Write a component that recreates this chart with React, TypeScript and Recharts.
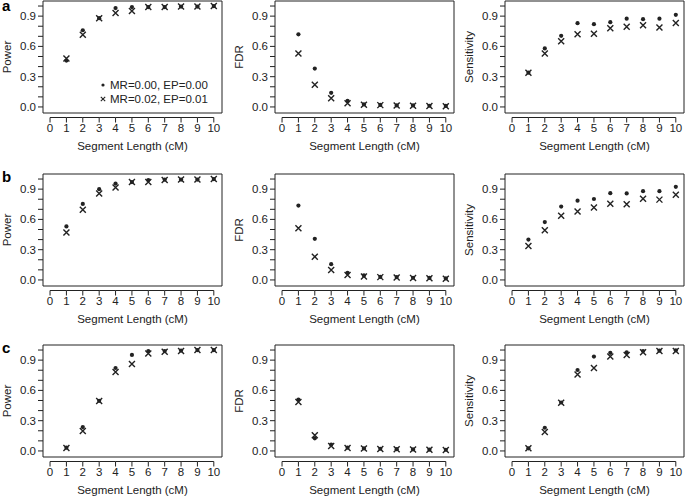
import React from 'react';
import { ScatterChart, Scatter, XAxis, YAxis, ReferenceArea, Legend } from 'recharts';

// ---------- data ----------
const segmentLengths = [1, 2, 3, 4, 5, 6, 7, 8, 9, 10];
const xTicks = [0, 1, 2, 3, 4, 5, 6, 7, 8, 9, 10];
const yTicks = [0, 0.1, 0.2, 0.3, 0.4, 0.5, 0.6, 0.7, 0.8, 0.9, 1.0];
const yLabelTicks = [0, 0.3, 0.6, 0.9];
const rowLetters = ['a', 'b', 'c'];
const metricNames = ['Power', 'FDR', 'Sensitivity'];
const xTitle = 'Segment Length (cM)';
const seriesNames = ['MR=0.00, EP=0.00', 'MR=0.02, EP=0.01'];

// row a
const powerA0 = [0.46, 0.76, 0.88, 0.98, 0.99, 0.99, 0.99, 0.995, 0.995, 1.0];
const powerA1 = [0.48, 0.715, 0.88, 0.93, 0.95, 0.99, 0.99, 0.995, 0.995, 1.0];
const fdrA0 = [0.72, 0.38, 0.14, 0.06, 0.025, 0.02, 0.015, 0.015, 0.012, 0.01];
const fdrA1 = [0.53, 0.22, 0.085, 0.036, 0.022, 0.018, 0.014, 0.013, 0.01, 0.008];
const sensA0 = [0.34, 0.58, 0.705, 0.83, 0.82, 0.84, 0.875, 0.87, 0.875, 0.913];
const sensA1 = [0.34, 0.53, 0.65, 0.72, 0.725, 0.78, 0.795, 0.81, 0.787, 0.832];
// row b
const powerB0 = [0.53, 0.753, 0.9, 0.955, 0.97, 0.99, 0.995, 0.995, 0.995, 1.0];
const powerB1 = [0.47, 0.695, 0.857, 0.916, 0.97, 0.97, 0.99, 0.995, 0.995, 1.0];
const fdrB0 = [0.737, 0.408, 0.156, 0.07, 0.045, 0.03, 0.028, 0.022, 0.02, 0.015];
const fdrB1 = [0.512, 0.231, 0.098, 0.05, 0.035, 0.028, 0.025, 0.02, 0.017, 0.013];
const sensB0 = [0.4, 0.574, 0.727, 0.786, 0.802, 0.86, 0.857, 0.88, 0.88, 0.923];
const sensB1 = [0.336, 0.492, 0.636, 0.678, 0.717, 0.756, 0.75, 0.805, 0.796, 0.845];
// row c
const powerC0 = [0.032, 0.237, 0.497, 0.822, 0.952, 0.99, 0.99, 0.995, 1.0, 1.0];
const powerC1 = [0.03, 0.198, 0.495, 0.783, 0.861, 0.965, 0.984, 0.99, 1.0, 1.0];
const fdrC0 = [0.51, 0.125, 0.062, 0.032, 0.025, 0.022, 0.018, 0.015, 0.013, 0.012];
const fdrC1 = [0.484, 0.155, 0.05, 0.03, 0.024, 0.02, 0.017, 0.014, 0.012, 0.01];
const sensC0 = [0.026, 0.23, 0.48, 0.802, 0.935, 0.972, 0.978, 0.99, 0.994, 0.997];
const sensC1 = [0.026, 0.188, 0.478, 0.757, 0.822, 0.935, 0.952, 0.978, 0.99, 0.99];

const panelSeries = [
  [[powerA0, powerA1], [fdrA0, fdrA1], [sensA0, sensA1]],
  [[powerB0, powerB1], [fdrB0, fdrB1], [sensB0, sensB1]],
  [[powerC0, powerC1], [fdrC0, fdrC1], [sensC0, sensC1]],
];

// ---------- layout ----------
const FONT = '"Liberation Sans", Arial, Helvetica, sans-serif';
const INK = '#222222';
const X_MIN = -0.43;
const X_MAX = 10.5;
const Y_MIN = -0.06; // bottom edge of the box
const Y_MAX = 1.05; // top edge of the box
const BOX_LEFT = [43, 275, 505];
const BOX_TOP = [1, 174, 345];
const BOX_W = 179;
const BOX_H = 112;
const Y_PX = (Y_MAX - Y_MIN) / BOX_H; // data units per pixel
// R-style detached x axis: a line a few pixels below the box, ticks hanging down
const AXIS_GAP_PX = 4.5;
const TICK_LEN_PX = 5;
const EXTRA_PX = 11; // plot area extends below the box to hold the axis line
const Y_LOW = Y_MIN - EXTRA_PX * Y_PX;
const AXIS_Y = Y_MIN - AXIS_GAP_PX * Y_PX;
const PLOT_H = BOX_H + EXTRA_PX;

const M_LEFT = 12;
const Y_AXIS_W = 38;
const M_TOP = 4;
const X_AXIS_H = 29;
const M_BOTTOM = 4;
const M_RIGHT = 4;
const CHART_W = M_LEFT + Y_AXIS_W + BOX_W + M_RIGHT;
const CHART_H = M_TOP + PLOT_H + X_AXIS_H + M_BOTTOM;

const toPoints = (vals: number[]) => segmentLengths.map((x, i) => ({ x, y: vals[i] }));
const axisPoints = xTicks.map((x) => ({ x, y: AXIS_Y }));

const DotShape = (props: any) => {
  const { cx, cy } = props;
  if (cx == null || cy == null) return null;
  return <circle cx={cx} cy={cy} r={2.1} fill={INK} />;
};

const CrossShape = (props: any) => {
  const { cx, cy } = props;
  if (cx == null || cy == null) return null;
  const s = 3;
  return (
    <path
      d={`M${cx - s},${cy - s}L${cx + s},${cy + s}M${cx - s},${cy + s}L${cx + s},${cy - s}`}
      stroke={INK}
      strokeWidth={1.4}
      fill="none"
    />
  );
};

const TickMarkShape = (props: any) => {
  const { cx, cy } = props;
  if (cx == null || cy == null) return null;
  return <path d={`M${cx},${cy}L${cx},${cy + TICK_LEN_PX}`} stroke={INK} strokeWidth={1} fill="none" />;
};

const XTickText = (props: any) => {
  const x = Number(props.x);
  const y = Number(props.y);
  const value = props.payload ? props.payload.value : '';
  return (
    <text x={x} y={y + 8} textAnchor="middle" style={{ fontSize: 11.5, fontFamily: FONT, fill: INK }}>
      {value}
    </text>
  );
};

const YTitle = (props: any) => {
  const vb = props.viewBox || { x: M_LEFT, y: M_TOP, width: Y_AXIS_W, height: PLOT_H };
  const cx = vb.x + vb.width - 36;
  const cy = vb.y + (vb.height - EXTRA_PX) / 2;
  return (
    <text
      x={cx}
      y={cy}
      transform={`rotate(-90, ${cx}, ${cy})`}
      textAnchor="middle"
      dominantBaseline="central"
      style={{ fontSize: 11.5, fontFamily: FONT, fill: INK }}
    >
      {props.text}
    </text>
  );
};

const XTitle = (props: any) => {
  const vb = props.viewBox || { x: M_LEFT + Y_AXIS_W, y: M_TOP + PLOT_H, width: BOX_W, height: X_AXIS_H };
  return (
    <text
      x={vb.x + vb.width / 2}
      y={vb.y + 26}
      textAnchor="middle"
      style={{ fontSize: 11.5, fontFamily: FONT, fill: INK }}
    >
      {props.text}
    </text>
  );
};

const LegendContent = () => (
  <div style={{ fontFamily: FONT, fontSize: 11.5, color: INK, lineHeight: '14px' }}>
    {seriesNames.map((name: string, i: number) => (
      <div key={name} style={{ display: 'flex', alignItems: 'center', whiteSpace: 'nowrap' }}>
        <svg width={8} height={8} style={{ display: 'block' }}>
          {i === 0 ? (
            <circle cx={4} cy={4} r={1.6} fill={INK} />
          ) : (
            <path d="M1.8,1.8L6.2,6.2M1.8,6.2L6.2,1.8" stroke={INK} strokeWidth={1.1} />
          )}
        </svg>
        <span style={{ marginLeft: 3 }}>{name}</span>
      </div>
    ))}
  </div>
);

const Panel = ({ row, col }: { row: number; col: number }) => {
  const [clean, noisy] = panelSeries[row][col];
  const left = BOX_LEFT[col] - M_LEFT - Y_AXIS_W;
  const top = BOX_TOP[row] - M_TOP;
  const showLegend = row === 0 && col === 0;
  return (
    <div style={{ position: 'absolute', left, top, width: CHART_W, height: CHART_H }}>
      <ScatterChart
        width={CHART_W}
        height={CHART_H}
        margin={{ top: M_TOP, right: M_RIGHT, bottom: M_BOTTOM, left: M_LEFT }}
      >
        <XAxis
          type="number"
          dataKey="x"
          domain={[X_MIN, X_MAX]}
          allowDataOverflow
          ticks={xTicks}
          interval={0}
          axisLine={false}
          tickLine={false}
          tickSize={0}
          tickMargin={0}
          height={X_AXIS_H}
          tick={(p: any) => <XTickText {...p} />}
          label={<XTitle text={xTitle} />}
        />
        <YAxis
          type="number"
          dataKey="y"
          domain={[Y_LOW, Y_MAX]}
          allowDataOverflow
          ticks={yTicks}
          interval={0}
          width={Y_AXIS_W}
          axisLine={false}
          tickLine={{ stroke: INK, strokeWidth: 1 }}
          tickSize={5}
          tickMargin={2}
          tick={{ fontSize: 11.5, fontFamily: FONT, fill: INK }}
          tickFormatter={(v: number) => (yLabelTicks.includes(v) ? v.toFixed(1) : '')}
          label={<YTitle text={metricNames[col]} />}
        />
        <ReferenceArea
          x1={X_MIN}
          x2={X_MAX}
          y1={Y_MIN}
          y2={Y_MAX}
          fill="none"
          fillOpacity={0}
          stroke={INK}
          strokeOpacity={1}
          strokeWidth={1}
          ifOverflow="visible"
        />
        <Scatter
          name="x-axis"
          legendType="none"
          data={axisPoints}
          line={{ stroke: INK, strokeWidth: 1 }}
          shape={TickMarkShape}
          fill={INK}
          isAnimationActive={false}
        />
        <Scatter
          name={seriesNames[0]}
          data={toPoints(clean)}
          shape={DotShape}
          fill={INK}
          isAnimationActive={false}
        />
        <Scatter
          name={seriesNames[1]}
          data={toPoints(noisy)}
          shape={CrossShape}
          fill={INK}
          isAnimationActive={false}
        />
        {showLegend && (
          <Legend
            layout="vertical"
            align="center"
            verticalAlign="middle"
            content={<LegendContent />}
            wrapperStyle={{ left: 96 + M_LEFT - 2, top: 81, width: 120, height: 30 }}
          />
        )}
      </ScatterChart>
    </div>
  );
};

export default function App() {
  return (
    <div
      style={{
        position: 'absolute',
        left: 0,
        top: 0,
        width: 685,
        height: 497,
        overflow: 'hidden',
        background: '#fff',
      }}
    >
      {rowLetters.map((_, r) =>
        metricNames.map((__, c) => <Panel key={`${r}-${c}`} row={r} col={c} />)
      )}
      <svg
        width={685}
        height={497}
        style={{ position: 'absolute', left: 0, top: 0, pointerEvents: 'none' }}
      >
        {rowLetters.map((letter, r) => (
          <text
            key={letter}
            x={2}
            y={BOX_TOP[r] + (r === 0 ? 10 : 8)}
            style={{ fontSize: 15, fontWeight: 'bold', fontFamily: FONT, fill: '#000' }}
          >
            {letter}
          </text>
        ))}
      </svg>
    </div>
  );
}
